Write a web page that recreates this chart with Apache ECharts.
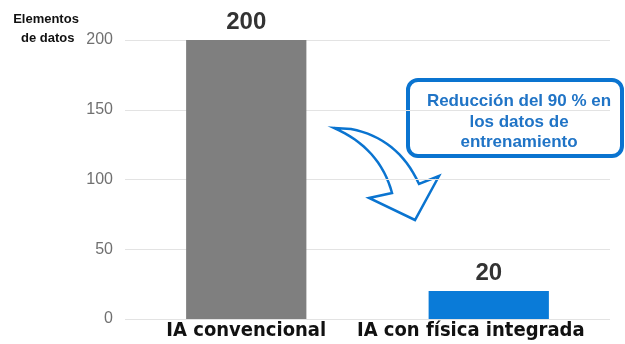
<!DOCTYPE html>
<html>
<head>
<meta charset="utf-8">
<script src="https://cdn.jsdelivr.net/npm/echarts@6/dist/echarts.min.js"></script>
<style>
html,body{margin:0;padding:0;background:#fff;}
#main{width:625px;height:344px;}
</style>
</head>
<body>
<div id="main"></div>
<script>
var categories = ["IA convencional", "IA con física integrada"];
var values = [200, 20];
var barColors = ["#7f7f7f", "#0a7bd8"];
var yTicks = [0, 50, 100, 150, 200];

var myChart = echarts.init(document.getElementById("main"));
var blue = "#0a74d0";

// puntos de una curva cuadratica
function quad(p0, c, p1, n) {
    var pts = [];
    for (var i = 0; i <= n; i++) {
        var t = i / n;
        var a = (1 - t) * (1 - t), b = 2 * t * (1 - t), d = t * t;
        pts.push([a * p0[0] + b * c[0] + d * p1[0], a * p0[1] + b * c[1] + d * p1[1]]);
    }
    return pts;
}
var arrowPts = [[334, 128]]
    .concat(quad([351, 129], [398, 138], [419, 184], 16))
    .concat([[439, 176], [415, 220], [369, 198]])
    .concat(quad([392, 193], [380, 148], [334, 128], 16));

// la segunda etiqueta va un poco a la izquierda
var labelPads = [[0, 0, 0, 0], [0, 36, 0, 0]];

var option = {
    animation: false,
    grid: {left: 125, right: 15, top: 40, bottom: 25},
    xAxis: {
        type: "category",
        data: categories.map(function (c, i) {
            return {value: c, textStyle: {padding: labelPads[i]}};
        }),
        axisLine: {show: false},
        axisTick: {show: false},
        axisLabel: {
            interval: 0,
            color: "#111",
            fontFamily: "DejaVu Sans Condensed, Liberation Sans, sans-serif",
            fontWeight: "bold",
            fontSize: 20,
            margin: 2
        }
    },
    yAxis: {
        type: "value",
        min: yTicks[0],
        max: yTicks[yTicks.length - 1],
        interval: 50,
        axisLabel: {color: "#707070", fontSize: 16, margin: 12, fontFamily: "Liberation Sans"},
        splitLine: {lineStyle: {color: "#e3e3e3", width: 1}}
    },
    series: [{
        type: "bar",
        barWidth: "49.6%",
        data: values.map(function (v, i) {
            return {value: v, itemStyle: {color: barColors[i]}};
        }),
        label: {
            show: true,
            position: "top",
            distance: 6,
            color: "#333",
            fontSize: 24,
            fontWeight: "bold",
            fontFamily: "Liberation Sans"
        }
    }],
    graphic: [
        {
            type: "text",
            x: 46, y: 10,
            style: {
                text: "Elementos\n de datos",
                font: "bold 13px Liberation Sans",
                fill: "#111",
                align: "center",
                lineHeight: 19
            }
        },
        {
            // flecha curva
            type: "polygon",
            shape: {points: arrowPts},
            style: {fill: "#fff", stroke: blue, lineWidth: 2.5}
        },
        {
            type: "rect",
            shape: {x: 408, y: 80, width: 214, height: 76, r: 10},
            style: {fill: "#fff", stroke: blue, lineWidth: 4}
        },
        {
            type: "text",
            x: 519, y: 122,
            style: {
                text: "Reducción del 90 % en\nlos datos de\nentrenamiento",
                font: "bold 17px Liberation Sans",
                fill: "#2074c6",
                align: "center",
                verticalAlign: "middle",
                lineHeight: 20.5
            }
        }
    ]
};
myChart.setOption(option);
</script>
</body>
</html>
